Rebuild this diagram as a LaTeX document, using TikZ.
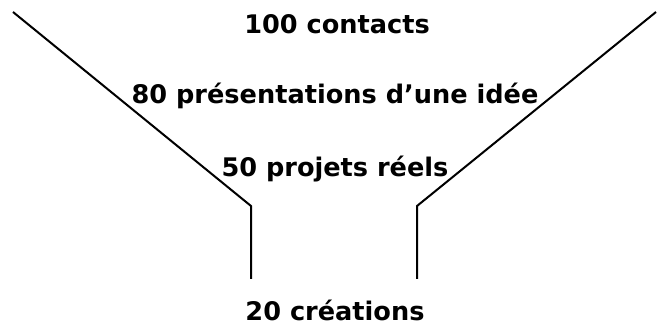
\documentclass[tikz,border=0pt]{standalone}
\usepackage{fontspec}
\setmainfont{DejaVu Sans}
\begin{document}
\begin{tikzpicture}[x=1pt,y=1pt,
  stage/.style={anchor=base,inner sep=0pt,font=\fontsize{25.6}{30}\selectfont\bfseries},
  wall/.style={line width=2pt,line join=miter}]
\useasboundingbox (0,0) rectangle (662,326);
% funnel walls
\coordinate (lt) at (13,314);
\coordinate (lk) at (251,120);
\coordinate (lb) at (251,47);
\coordinate (rt) at (656,314);
\coordinate (rk) at (417,120);
\coordinate (rb) at (417,47);
\draw[wall] (lt) -- (lk) -- (lb);
\draw[wall] (rt) -- (rk) -- (rb);
% stages
\node[stage] (s1) at (337,292) {100 contacts};
\node[stage] (s2) at (335,222) {80 présentations d’une idée};
\node[stage] (s3) at (335,149) {50 projets réels};
\node[stage] (s4) at (335,5) {20 créations};
\end{tikzpicture}
\end{document}
